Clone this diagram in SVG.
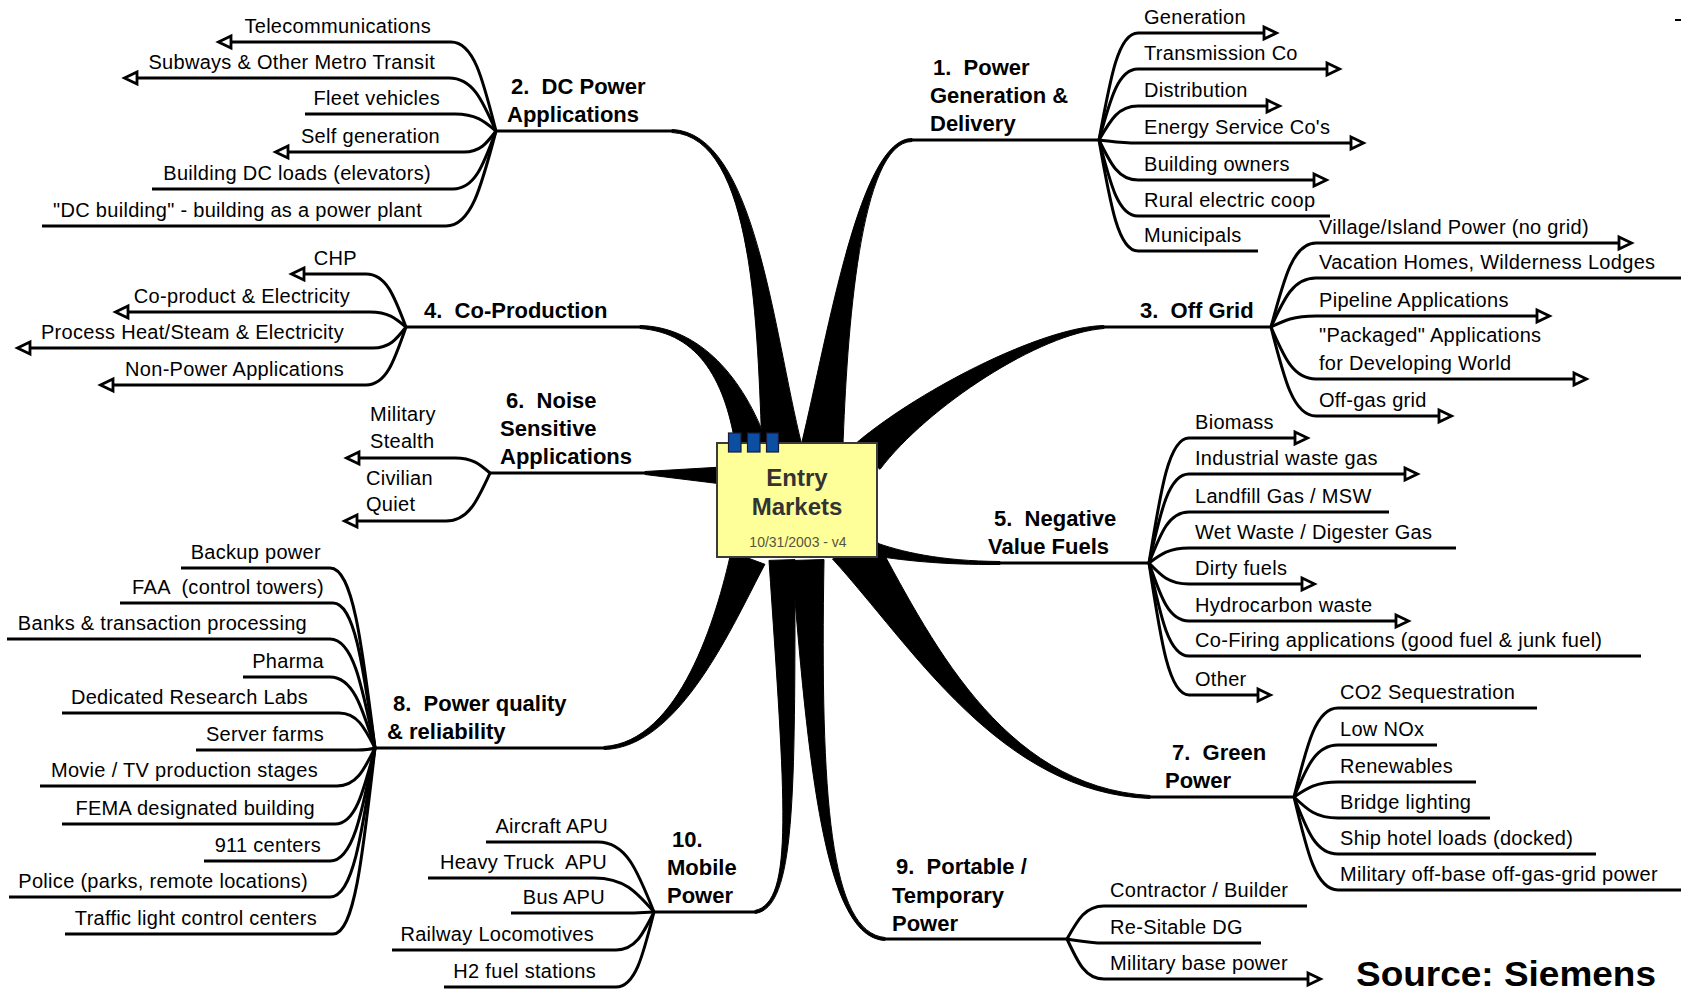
<svg xmlns="http://www.w3.org/2000/svg" width="1681" height="995" viewBox="0 0 1681 995">
<style>
text{font-family:"Liberation Sans",Arial,Helvetica,sans-serif;white-space:pre;fill:#000}
.lf{font-size:20px;letter-spacing:0.3px}
.e{text-anchor:end}
.tp{font-size:22px;font-weight:bold}
.ln{fill:none;stroke:#000;stroke-width:3;stroke-linejoin:round}
.ar{marker-end:url(#ar)}
.wd{fill:#000;stroke:#000;stroke-width:1}
.ct{font-size:24px;font-weight:bold;fill:#333;text-anchor:middle}
.dt{font-size:14px;fill:#55553f;text-anchor:middle}
.src{font-size:35px;font-weight:bold}
</style>
<defs>
<marker id="ar" markerUnits="userSpaceOnUse" markerWidth="20" markerHeight="20" viewBox="-3 -10 20 20" refX="0" refY="0" orient="auto"><path d="M0,-6 L12.5,0 L0,6 Z" fill="#fff" stroke="#000" stroke-width="2.8"/></marker>
</defs>
<rect width="1681" height="995" fill="#fff"/>
<g id="connectors">
<path class="wd" d="M801.8,445.1 C772.9,328.9 755.1,133 672.1,129.5 L671.9,132.5 C754.9,137 757.1,331.1 762.2,450.9 Z"/>
<path class="wd" d="M842.8,450.8 C846.9,331.2 860,142 912,141.5 L912,138.5 C860,138 829.1,328.8 801.2,445.2 Z"/>
<path class="wd" d="M767.5,444.1 C743.7,377.8 700.1,327 640,325.5 L640,328.5 C699.9,333 726.3,382.2 736.5,451.9 Z"/>
<path class="wd" d="M645,471.5 L722,467 L722,484 L645,474.5 Z"/>
<path class="wd" d="M880,469.3 C927.8,406.3 1040.1,333 1104.1,328.5 L1103.9,325.5 C1039.9,327 912.2,393.7 852,446.7 Z"/>
<path class="wd" d="M868.2,554.8 C899,559.9 940,565 1000,564.5 L1000,561.5 C940,561 901,552.1 871.8,541.2 Z"/>
<path class="wd" d="M832.5,559 C911.9,645.8 999.9,793 1149.9,798.5 L1150.1,795.5 C1000.1,787 928.1,634.2 871.5,531 Z"/>
<path class="wd" d="M792,560.5 C810,800.1 829.8,937.5 884.9,940.5 L885.1,937.5 C830.2,932.5 820,799.9 824,559.5 Z"/>
<path class="wd" d="M769,560.4 C785,800.2 794.6,902.5 754.8,910.5 L755.2,913.5 C795.4,907.5 795,799.8 795,559.6 Z"/>
<path class="wd" d="M731.1,551.7 C716.6,616.9 679.9,742 603.9,746.5 L604.1,749.5 C680.1,748 733.4,623.1 764.9,564.3 Z"/>
<path class="ln" d="M672,131 H496"/>
<path class="ln" d="M912,140 H1099"/>
<path class="ln" d="M640,327 H406"/>
<path class="ln" d="M645,473 H490"/>
<path class="ln" d="M1104,327 H1271"/>
<path class="ln" d="M1000,563 H1149"/>
<path class="ln" d="M1150,797 H1294"/>
<path class="ln" d="M885,939 H1067"/>
<path class="ln" d="M755,912 H654"/>
<path class="ln" d="M604,748 H375"/>
<path class="ln ar" d="M496,131 C482.5,77.6 473.5,42 451,42 H231"/>
<path class="ln ar" d="M496,131 C481.9,99.2 472.5,78 449,78 H137"/>
<path class="ln" d="M496,131 C483.7,120.8 475.5,114 455,114 H305"/>
<path class="ln ar" d="M496,131 C486.4,143.6 480,152 464,152 H288"/>
<path class="ln" d="M496,131 C483.1,165.8 474.5,189 453,189 H152"/>
<path class="ln" d="M496,131 C481,188 471,226 446,226 H42"/>
<path class="ln ar" d="M406,327 C394,295.2 386,274 366,274 H304"/>
<path class="ln ar" d="M406,327 C395.2,318 388,312 370,312 H128"/>
<path class="ln ar" d="M406,327 C396.1,339.6 389.5,348 373,348 H30"/>
<path class="ln ar" d="M406,327 C394,361.8 386,385 366,385 H113"/>
<path class="ln ar" d="M490,473 C479.5,464 472.5,458 455,458 H359"/>
<path class="ln ar" d="M490,473 C476.8,501.8 468,521 446,521 H357"/>
<path class="ln" d="M375,748 C361.5,640 352.5,568 330,568 H181"/>
<path class="ln" d="M375,748 C362.4,661 354,603 333,603 H120"/>
<path class="ln" d="M375,748 C361.5,682.6 352.5,639 330,639 H7"/>
<path class="ln" d="M375,748 C361.5,705.4 352.5,677 330,677 H243"/>
<path class="ln" d="M375,748 C364.2,727 357,713 339,713 H62"/>
<path class="ln" d="M375,748 C370,749.5 365,750 357,750 H196"/>
<path class="ln" d="M375,748 C363.6,770.8 356,786 337,786 H40"/>
<path class="ln" d="M375,748 C363,793.6 355,824 335,824 H62"/>
<path class="ln" d="M375,748 C361.5,815.8 352.5,861 330,861 H204"/>
<path class="ln" d="M375,748 C361.5,837.4 352.5,897 330,897 H9"/>
<path class="ln" d="M375,748 C362.4,859.6 354,934 333,934 H65"/>
<path class="ln" d="M654,912 C637.2,870 626,842 598,842 H486"/>
<path class="ln" d="M654,912 C636,891.6 624,878 594,878 H428"/>
<path class="ln" d="M654,912 L634,913 H511"/>
<path class="ln" d="M654,912 C642.6,934.8 635,950 616,950 H392"/>
<path class="ln" d="M654,912 C642.6,957 635,987 616,987 H444"/>
<path class="ln ar" d="M1099,140 C1110.7,75.8 1118.5,33 1138,33 H1264"/>
<path class="ln ar" d="M1099,140 C1110.7,97.4 1118.5,69 1138,69 H1327"/>
<path class="ln ar" d="M1099,140 C1110.7,119.6 1118.5,106 1138,106 H1267"/>
<path class="ln ar" d="M1099,140 C1110,141 1120,143 1138,143 H1351"/>
<path class="ln ar" d="M1099,140 C1110.7,164 1118.5,180 1138,180 H1314"/>
<path class="ln" d="M1099,140 C1110.7,185.6 1118.5,216 1138,216 H1330"/>
<path class="ln" d="M1099,140 C1110.7,206.6 1118.5,251 1138,251 H1258"/>
<path class="ln ar" d="M1271,327 C1284.5,276.6 1293.5,243 1316,243 H1619"/>
<path class="ln" d="M1271,327 C1284.5,297.6 1293.5,278 1316,278 H1681"/>
<path class="ln ar" d="M1271,327 C1284.5,320.4 1293.5,316 1316,316 H1537"/>
<path class="ln ar" d="M1271,327 C1284.5,358.2 1293.5,379 1316,379 H1574"/>
<path class="ln ar" d="M1271,327 C1284.5,380.4 1293.5,416 1316,416 H1439"/>
<path class="ln ar" d="M1149,563 C1161,488 1169,438 1189,438 H1295"/>
<path class="ln ar" d="M1149,563 C1161,509.6 1169,474 1189,474 H1405"/>
<path class="ln" d="M1149,563 C1161,532.4 1169,512 1189,512 H1389"/>
<path class="ln" d="M1149,563 C1161,554 1169,548 1189,548 H1456"/>
<path class="ln ar" d="M1149,563 C1161,575.6 1169,584 1189,584 H1302"/>
<path class="ln ar" d="M1149,563 C1161,597.8 1169,621 1189,621 H1396"/>
<path class="ln" d="M1149,563 C1161,618.8 1169,656 1189,656 H1641"/>
<path class="ln ar" d="M1149,563 C1161,642.2 1169,695 1189,695 H1258"/>
<path class="ln" d="M1294,797 C1307.2,743.6 1316,708 1338,708 H1537"/>
<path class="ln" d="M1294,797 C1307.2,765.8 1316,745 1338,745 H1437"/>
<path class="ln" d="M1294,797 C1307.2,788 1316,782 1338,782 H1476"/>
<path class="ln" d="M1294,797 C1307.2,809.6 1316,818 1338,818 H1490"/>
<path class="ln" d="M1294,797 C1307.2,831.2 1316,854 1338,854 H1596"/>
<path class="ln" d="M1294,797 C1307.2,852.8 1316,890 1338,890 H1681"/>
<path class="ln" d="M1067,939 C1078.1,919.2 1085.5,906 1104,906 H1307"/>
<path class="ln" d="M1067,939 C1080,941 1090,943 1104,943 H1261"/>
<path class="ln ar" d="M1067,939 C1078.1,963 1085.5,979 1104,979 H1308"/>
</g>
<g id="center">
<rect x="717" y="443" width="160" height="114" fill="#ffff99" stroke="#3a3a3a" stroke-width="2"/>
<rect x="728.5" y="433" width="12.5" height="19" fill="#0b4ea2" stroke="#1a1a3a" stroke-width="1.2"/>
<rect x="747.5" y="433" width="12.5" height="19" fill="#0b4ea2" stroke="#1a1a3a" stroke-width="1.2"/>
<rect x="766.5" y="433" width="12" height="19" fill="#0b4ea2" stroke="#1a1a3a" stroke-width="1.2"/>
<text class="ct" x="797" y="486">Entry</text>
<text class="ct" x="797" y="515">Markets</text>
<text class="dt" x="798" y="547">10/31/2003 - v4</text>
</g>
<g id="t1"><text class="tp" x="933" y="75">1.  Power</text><text class="tp" x="930" y="103">Generation &amp;</text><text class="tp" x="930" y="131">Delivery</text></g>
<g id="t2"><text class="tp" x="511" y="94">2.  DC Power</text><text class="tp" x="507" y="122">Applications</text></g>
<g id="t3"><text class="tp" x="1140" y="318">3.  Off Grid</text></g>
<g id="t4"><text class="tp" x="424" y="318">4.  Co-Production</text></g>
<g id="t5"><text class="tp" x="994" y="526">5.  Negative</text><text class="tp" x="988" y="554">Value Fuels</text></g>
<g id="t6"><text class="tp" x="506" y="408">6.  Noise</text><text class="tp" x="500" y="436">Sensitive</text><text class="tp" x="500" y="464">Applications</text></g>
<g id="t7"><text class="tp" x="1172" y="760">7.  Green</text><text class="tp" x="1165" y="788">Power</text></g>
<g id="t8"><text class="tp" x="393" y="711">8.  Power quality</text><text class="tp" x="387" y="739">&amp; reliability</text></g>
<g id="t9"><text class="tp" x="896" y="874">9.  Portable /</text><text class="tp" x="892" y="903">Temporary</text><text class="tp" x="892" y="931">Power</text></g>
<g id="t10"><text class="tp" x="672" y="847">10.</text><text class="tp" x="667" y="875">Mobile</text><text class="tp" x="667" y="903">Power</text></g>
<g id="n2a"><text class="lf e" x="431" y="33">Telecommunications</text></g>
<g id="n2b"><text class="lf e" x="435" y="69">Subways &amp; Other Metro Transit</text></g>
<g id="n2c"><text class="lf e" x="440" y="105">Fleet vehicles</text></g>
<g id="n2d"><text class="lf e" x="440" y="143">Self generation</text></g>
<g id="n2e"><text class="lf e" x="431" y="180">Building DC loads (elevators)</text></g>
<g id="n2f"><text class="lf e" x="422" y="217">"DC building" - building as a power plant</text></g>
<g id="n4a"><text class="lf e" x="357" y="265">CHP</text></g>
<g id="n4b"><text class="lf e" x="350" y="303">Co-product &amp; Electricity</text></g>
<g id="n4c"><text class="lf e" x="344" y="339">Process Heat/Steam &amp; Electricity</text></g>
<g id="n4d"><text class="lf e" x="344" y="376">Non-Power Applications</text></g>
<g id="n6a"><text class="lf" x="370" y="421">Military</text><text class="lf" x="370" y="448">Stealth</text></g>
<g id="n6b"><text class="lf" x="366" y="485">Civilian</text><text class="lf" x="366" y="511">Quiet</text></g>
<g id="n8a"><text class="lf e" x="321" y="559">Backup power</text></g>
<g id="n8b"><text class="lf e" x="324" y="594">FAA  (control towers)</text></g>
<g id="n8c"><text class="lf e" x="307" y="630">Banks &amp; transaction processing</text></g>
<g id="n8d"><text class="lf e" x="324" y="668">Pharma</text></g>
<g id="n8e"><text class="lf e" x="308" y="704">Dedicated Research Labs</text></g>
<g id="n8f"><text class="lf e" x="324" y="741">Server farms</text></g>
<g id="n8g"><text class="lf e" x="318" y="777">Movie / TV production stages</text></g>
<g id="n8h"><text class="lf e" x="315" y="815">FEMA designated building</text></g>
<g id="n8i"><text class="lf e" x="321" y="852">911 centers</text></g>
<g id="n8j"><text class="lf e" x="308" y="888">Police (parks, remote locations)</text></g>
<g id="n8k"><text class="lf e" x="317" y="925">Traffic light control centers</text></g>
<g id="n10a"><text class="lf e" x="608" y="833">Aircraft APU</text></g>
<g id="n10b"><text class="lf e" x="607" y="869">Heavy Truck  APU</text></g>
<g id="n10c"><text class="lf e" x="605" y="904">Bus APU</text></g>
<g id="n10d"><text class="lf e" x="594" y="941">Railway Locomotives</text></g>
<g id="n10e"><text class="lf e" x="596" y="978">H2 fuel stations</text></g>
<g id="n1a"><text class="lf" x="1144" y="24">Generation</text></g>
<g id="n1b"><text class="lf" x="1144" y="60">Transmission Co</text></g>
<g id="n1c"><text class="lf" x="1144" y="97">Distribution</text></g>
<g id="n1d"><text class="lf" x="1144" y="134">Energy Service Co's</text></g>
<g id="n1e"><text class="lf" x="1144" y="171">Building owners</text></g>
<g id="n1f"><text class="lf" x="1144" y="207">Rural electric coop</text></g>
<g id="n1g"><text class="lf" x="1144" y="242">Municipals</text></g>
<g id="n3a"><text class="lf" x="1319" y="234">Village/Island Power (no grid)</text></g>
<g id="n3b"><text class="lf" x="1319" y="269">Vacation Homes, Wilderness Lodges</text></g>
<g id="n3c"><text class="lf" x="1319" y="307">Pipeline Applications</text></g>
<g id="n3d"><text class="lf" x="1319" y="342">"Packaged" Applications</text><text class="lf" x="1319" y="370">for Developing World</text></g>
<g id="n3e"><text class="lf" x="1319" y="407">Off-gas grid</text></g>
<g id="n5a"><text class="lf" x="1195" y="429">Biomass</text></g>
<g id="n5b"><text class="lf" x="1195" y="465">Industrial waste gas</text></g>
<g id="n5c"><text class="lf" x="1195" y="503">Landfill Gas / MSW</text></g>
<g id="n5d"><text class="lf" x="1195" y="539">Wet Waste / Digester Gas</text></g>
<g id="n5e"><text class="lf" x="1195" y="575">Dirty fuels</text></g>
<g id="n5f"><text class="lf" x="1195" y="612">Hydrocarbon waste</text></g>
<g id="n5g"><text class="lf" x="1195" y="647">Co-Firing applications (good fuel &amp; junk fuel)</text></g>
<g id="n5h"><text class="lf" x="1195" y="686">Other</text></g>
<g id="n7a"><text class="lf" x="1340" y="699">CO2 Sequestration</text></g>
<g id="n7b"><text class="lf" x="1340" y="736">Low NOx</text></g>
<g id="n7c"><text class="lf" x="1340" y="773">Renewables</text></g>
<g id="n7d"><text class="lf" x="1340" y="809">Bridge lighting</text></g>
<g id="n7e"><text class="lf" x="1340" y="845">Ship hotel loads (docked)</text></g>
<g id="n7f"><text class="lf" x="1340" y="881">Military off-base off-gas-grid power</text></g>
<g id="n9a"><text class="lf" x="1110" y="897">Contractor / Builder</text></g>
<g id="n9b"><text class="lf" x="1110" y="934">Re-Sitable DG</text></g>
<g id="n9c"><text class="lf" x="1110" y="970">Military base power</text></g>
<g id="source"><text class="src" x="1356" y="986" textLength="300" lengthAdjust="spacingAndGlyphs">Source: Siemens</text></g>
<rect x="1675" y="19" width="6" height="2" fill="#000"/>
</svg>
